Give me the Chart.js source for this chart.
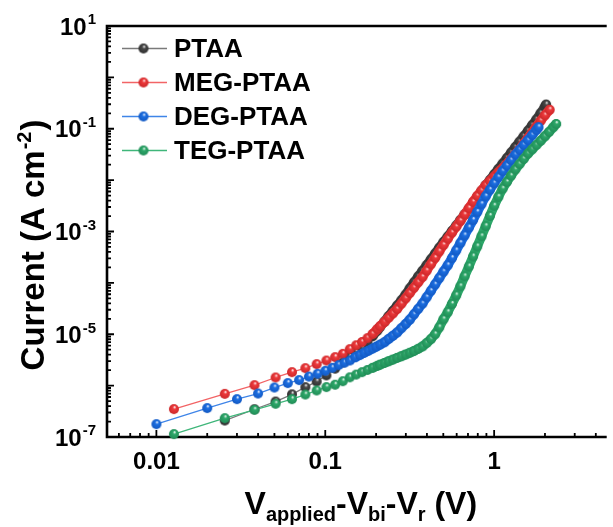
<!DOCTYPE html>
<html><head><meta charset="utf-8">
<script src="https://cdn.jsdelivr.net/npm/chart.js@4.4.1/dist/chart.umd.min.js"></script>
<style>html,body{margin:0;padding:0;background:#fff;}#wrap{width:613px;height:527px;}</style>
</head><body><div id="wrap"><canvas id="c" width="613" height="527"></canvas></div>
<script>
// ---- data (V in volts, current in A cm^-2) ----
const seriesNames = ['PTAA', 'MEG-PTAA', 'DEG-PTAA', 'TEG-PTAA'];
const vStep127 = [0.0127,0.0254,0.0381,0.0508,0.0635,0.0762,0.0889,0.1016,0.1143,0.127,0.1397,0.1524,0.1651,0.1778,0.1905,0.2032];
const vStep10 = [0.01,0.02,0.03,0.04,0.05,0.06,0.07,0.08,0.09,0.10,0.11,0.12,0.13,0.14,0.15,0.16,0.17,0.18,0.19,0.20];
const vDense = [0.211,0.224,0.237,0.251,0.266,0.282,0.299,0.316,0.335,0.355,0.376,0.398,0.422,0.447,0.473,0.501,0.531,0.562,0.596,0.631,0.668,0.708,0.750,0.794,0.841,0.891,0.944,1.0,1.059,1.122,1.189,1.259,1.334,1.413,1.496,1.585,1.679,1.778,1.884,1.995,2.113,2.239];

const ptaaV = [...vStep127.slice(1), ...vDense.slice(0, 40), 2.03];
const ptaaI = [2.09e-7,3.47e-7,4.90e-7,6.76e-7,9.33e-7,1.20e-6,1.58e-6,2.14e-6,2.83e-6,3.61e-6,4.49e-6,5.50e-6,7.06e-6,9.14e-6,1.17e-5,
  1.38e-5,1.76e-5,2.24e-5,2.84e-5,3.60e-5,4.56e-5,5.90e-5,7.76e-5,1.02e-4,1.33e-4,1.71e-4,2.21e-4,2.86e-4,3.72e-4,4.82e-4,6.24e-4,7.96e-4,1.02e-3,1.30e-3,1.67e-3,2.14e-3,2.75e-3,3.61e-3,4.72e-3,6.11e-3,7.91e-3,1.01e-2,1.29e-2,1.65e-2,2.10e-2,2.69e-2,3.43e-2,4.38e-2,5.58e-2,7.11e-2,9.12e-2,0.117,0.151,0.200,0.269,
  0.295];

const megV = [...vStep127, ...vDense.slice(0, 40), 2.13];
const megI = [3.49e-7,6.92e-7,1.02e-6,1.44e-6,1.83e-6,2.19e-6,2.62e-6,3.08e-6,3.58e-6,4.16e-6,5.13e-6,6.10e-6,7.08e-6,8.41e-6,1.01e-5,1.26e-5,
  1.43e-5,1.73e-5,2.10e-5,2.54e-5,3.10e-5,3.94e-5,5.00e-5,6.35e-5,8.07e-5,1.03e-4,1.30e-4,1.73e-4,2.31e-4,3.07e-4,4.09e-4,5.46e-4,7.26e-4,9.53e-4,1.24e-3,1.61e-3,2.13e-3,2.84e-3,3.78e-3,4.93e-3,6.25e-3,7.94e-3,9.66e-3,1.17e-2,1.42e-2,1.71e-2,2.08e-2,2.58e-2,3.21e-2,3.98e-2,5.12e-2,6.59e-2,8.47e-2,0.110,0.143,0.183,
  0.234];

const degV = [...vStep10, ...vDense.slice(0, 38), 1.83];
const degI = [1.78e-7,3.65e-7,5.46e-7,7.02e-7,9.18e-7,1.12e-6,1.28e-6,1.50e-6,1.70e-6,1.94e-6,2.22e-6,2.51e-6,2.79e-6,3.09e-6,3.55e-6,3.93e-6,4.35e-6,4.78e-6,5.25e-6,5.70e-6,
  6.27e-6,6.98e-6,8.07e-6,9.31e-6,1.08e-5,1.31e-5,1.58e-5,1.92e-5,2.44e-5,3.11e-5,3.95e-5,5.25e-5,7.00e-5,9.31e-5,1.24e-4,1.66e-4,2.20e-4,3.04e-4,4.27e-4,5.97e-4,8.39e-4,1.19e-3,1.67e-3,2.39e-3,3.41e-3,4.84e-3,6.50e-3,8.71e-3,1.14e-2,1.49e-2,1.91e-2,2.45e-2,3.14e-2,3.89e-2,4.82e-2,5.97e-2,7.53e-2,9.48e-2,
  0.107];

const tegV = [...vStep127, ...vDense.slice(0, 42), 2.33];
const tegI = [1.14e-7,2.33e-7,3.38e-7,4.43e-7,5.46e-7,6.71e-7,8.04e-7,9.35e-7,1.04e-6,1.22e-6,1.45e-6,1.64e-6,1.83e-6,2.02e-6,2.22e-6,2.43e-6,
  2.56e-6,2.76e-6,2.98e-6,3.21e-6,3.46e-6,3.73e-6,4.03e-6,4.36e-6,4.72e-6,5.20e-6,5.79e-6,6.73e-6,8.02e-6,1.00e-5,1.36e-5,1.96e-5,2.69e-5,3.88e-5,5.70e-5,8.57e-5,1.34e-4,2.08e-4,3.26e-4,5.11e-4,8.05e-4,1.27e-3,2.01e-3,3.17e-3,4.71e-3,6.82e-3,9.20e-3,1.22e-2,1.61e-2,2.05e-2,2.59e-2,3.28e-2,3.98e-2,4.82e-2,5.83e-2,7.11e-2,8.69e-2,0.107,
  0.124];

const xMajorTicks = [0.01, 0.1, 1];
const xTickLabels = ['0.01', '0.1', '1'];
const yLabelExponents = [1, -1, -3, -5, -7];

// ---- styling ----
const FONT = '"Liberation Sans", Arial, Helvetica, sans-serif';
const markerColors = ['#4a4a4a', '#ee3a3c', '#1c6fe2', '#2ea86a'];
const markerDark = ['#2c2c2c', '#c82628', '#1257c0', '#1f8a55'];
const lineColors = ['#7a7a7a', '#f26466', '#3f85e8', '#3fb67a'];

function ball(color, dark) {
  const s = 12, c = document.createElement('canvas');
  c.width = s; c.height = s;
  const g = c.getContext('2d');
  const grad = g.createRadialGradient(6.8, 3.9, 0.2, 6, 6, 5.4);
  grad.addColorStop(0, 'rgba(255,255,255,0.95)');
  grad.addColorStop(0.28, color);
  grad.addColorStop(1, dark);
  g.fillStyle = grad;
  g.beginPath(); g.arc(6, 6, 5.0, 0, Math.PI * 2); g.fill();
  return c;
}
const balls = markerColors.map((c, i) => ball(c, markerDark[i]));

const allV = [ptaaV, megV, degV, tegV];
const allI = [ptaaI, megI, degI, tegI];

const isDense = c => Math.abs(c.p1.x - c.p0.x) < 5;
const datasets = seriesNames.map((name, i) => ({
  label: name,
  data: allV[i].map((v, k) => ({x: v, y: allI[i][k]})),
  showLine: true,
  borderColor: lineColors[i],
  borderWidth: 1.3,
  borderCapStyle: 'round',
  borderJoinStyle: 'round',
  segment: {
    borderWidth: c => (isDense(c) ? 9.5 : 1.3),
    borderColor: c => (isDense(c) ? markerColors[i] : lineColors[i])
  },
  pointStyle: balls[i],
  pointRadius: 5,
  order: 4 - i,
  clip: 8
}));

function drawSup(ctx, x, y, base, sup, baseSize, supSize, align) {
  ctx.font = 'bold ' + baseSize + 'px ' + FONT;
  const wb = ctx.measureText(base).width;
  ctx.font = 'bold ' + supSize + 'px ' + FONT;
  const ws = ctx.measureText(sup).width;
  let x0 = align === 'right' ? x - wb - ws : x - (wb + ws) / 2;
  ctx.textAlign = 'left';
  ctx.textBaseline = 'alphabetic';
  ctx.font = 'bold ' + baseSize + 'px ' + FONT;
  ctx.fillText(base, x0, y);
  ctx.font = 'bold ' + supSize + 'px ' + FONT;
  ctx.fillText(sup, x0 + wb + 1, y - baseSize * 0.42);
}

const framePlugin = {
  id: 'frame',
  beforeDatasetsDraw(chart) {
    const {ctx, chartArea: a, scales: {x, y}} = chart;
    ctx.save();
    ctx.strokeStyle = '#000';
    ctx.lineWidth = 2.6;
    ctx.beginPath();
    ctx.moveTo(a.left - 1.3, a.top); ctx.lineTo(a.right, a.top);
    ctx.moveTo(a.left, a.top); ctx.lineTo(a.left, a.bottom);
    ctx.moveTo(a.left - 1.3, a.bottom); ctx.lineTo(a.right, a.bottom);
    ctx.stroke();
    ctx.lineWidth = 1.8;
    ctx.beginPath();
    for (let e = -7; e <= 1; e++) {
      const py = y.getPixelForValue(Math.pow(10, e));
      ctx.moveTo(a.left, py); ctx.lineTo(a.left + 7, py);
      if (e < 1) {
        for (let m = 2; m <= 9; m++) {
          const p = y.getPixelForValue(m * Math.pow(10, e));
          ctx.moveTo(a.left, p); ctx.lineTo(a.left + 4, p);
        }
      }
    }
    for (let e = -3; e <= 0; e++) {
      for (let m = 1; m <= 9; m++) {
        const v = m * Math.pow(10, e);
        if (v < x.min || v > x.max) continue;
        const p = x.getPixelForValue(v);
        ctx.moveTo(p, a.bottom); ctx.lineTo(p, a.bottom - (m === 1 ? 7 : 4));
      }
    }
    ctx.stroke();
    ctx.restore();
  },
  afterDraw(chart) {
    const {ctx, chartArea: a, scales: {x, y}} = chart;
    ctx.save();
    ctx.fillStyle = '#000';
    yLabelExponents.forEach(e => {
      const py = y.getPixelForValue(Math.pow(10, e));
      drawSup(ctx, a.left - 12, py + 8.5, '10', String(e), 24, 15, 'right');
    });
    ctx.font = 'bold 24px ' + FONT;
    ctx.textAlign = 'center';
    ctx.textBaseline = 'alphabetic';
    xMajorTicks.forEach((v, i) => {
      ctx.fillText(xTickLabels[i], x.getPixelForValue(v), 469);
    });
    // x title
    const parts = [['V', 0], ['applied', 1], ['-V', 0], ['bi', 1], ['-V', 0], ['r', 1], [' (V)', 0]];
    let total = 0;
    parts.forEach(p => { ctx.font = 'bold ' + (p[1] ? 20 : 32) + 'px ' + FONT; total += ctx.measureText(p[0]).width; });
    let cx = (a.left + a.right) / 2 - total / 2 + 4;
    ctx.textAlign = 'left';
    parts.forEach(p => {
      ctx.font = 'bold ' + (p[1] ? 20 : 32) + 'px ' + FONT;
      ctx.fillText(p[0], cx, 514 + (p[1] ? 7 : 0));
      cx += ctx.measureText(p[0]).width;
    });
    // y title
    ctx.save();
    ctx.translate(33, 246);
    ctx.rotate(-Math.PI / 2);
    const yp = [['Current (A cm', 0], ['-2', 1], [')', 0]];
    total = 0;
    yp.forEach(p => { ctx.font = 'bold ' + (p[1] ? 20 : 33) + 'px ' + FONT; total += ctx.measureText(p[0]).width; });
    let rx = -total / 2;
    yp.forEach(p => {
      ctx.font = 'bold ' + (p[1] ? 20 : 33) + 'px ' + FONT;
      ctx.fillText(p[0], rx + (p[1] ? 1 : 0), 11 - (p[1] ? 13 : 0));
      rx += ctx.measureText(p[0]).width + (p[1] ? 2 : 0);
    });
    ctx.restore();
    // legend
    const ly = [48.5, 82.5, 116.5, 150.5];
    chart.data.datasets.forEach((ds, i) => {
      ctx.strokeStyle = lineColors[i];
      ctx.lineWidth = 1.6;
      ctx.beginPath(); ctx.moveTo(122, ly[i]); ctx.lineTo(167, ly[i]); ctx.stroke();
      ctx.drawImage(ds.pointStyle, 143.5 - 6, ly[i] - 6);
      ctx.fillStyle = '#000';
      ctx.font = 'bold 26px ' + FONT;
      ctx.textAlign = 'left';
      ctx.textBaseline = 'middle';
      ctx.fillText(ds.label, 174, ly[i] + 1);
    });
    ctx.restore();
  }
};

new Chart(document.getElementById('c'), {
  type: 'scatter',
  data: {datasets},
  options: {
    responsive: false,
    animation: false,
    events: [],
    layout: {padding: {top: 26, right: 0, left: 0, bottom: 0}},
    plugins: {legend: {display: false}, tooltip: {enabled: false}},
    scales: {
      x: {
        type: 'logarithmic', min: 0.0051, max: 4.64,
        grid: {display: false}, border: {display: false}, ticks: {display: false},
        afterFit: s => { s.height = 90; }
      },
      y: {
        type: 'logarithmic', min: 1e-7, max: 10,
        grid: {display: false}, border: {display: false}, ticks: {display: false},
        afterFit: s => { s.width = 107; }
      }
    }
  },
  plugins: [framePlugin]
});
</script>
</body></html>
